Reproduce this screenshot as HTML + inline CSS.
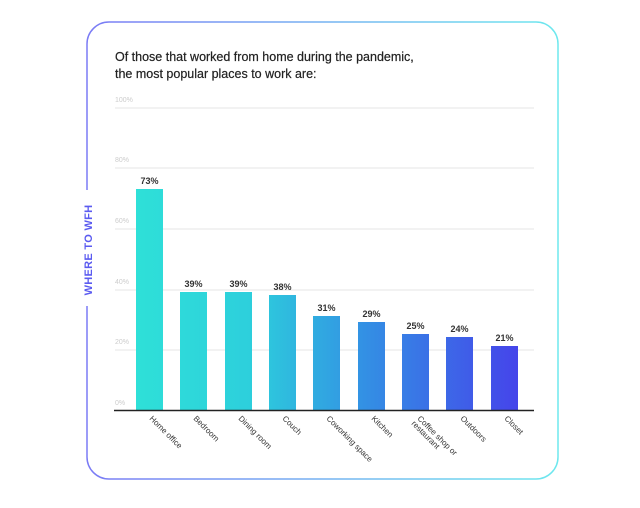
<!DOCTYPE html>
<html><head><style>
body{margin:0;background:#fff;width:640px;height:503px;overflow:hidden;font-family:"Liberation Sans",sans-serif}
</style></head><body>
<svg width="640" height="503" xmlns="http://www.w3.org/2000/svg">
<defs>
<linearGradient id="bd" x1="0" x2="1" y1="0" y2="0"><stop offset="0" stop-color="#7b7bf5"/><stop offset="1" stop-color="#6ee8ee"/></linearGradient>
<linearGradient id="bars" x1="136" x2="517" y1="0" y2="0" gradientUnits="userSpaceOnUse"><stop offset="0" stop-color="#2ee0d8"/><stop offset="0.3" stop-color="#2dcfdc"/><stop offset="0.6" stop-color="#3390e4"/><stop offset="1" stop-color="#4545ea"/></linearGradient>
</defs>
<rect x="87" y="22" width="471" height="457" rx="22" fill="none" stroke="url(#bd)" stroke-width="1.5"/>
<rect x="80" y="190" width="16" height="116" fill="#fff"/>
<text transform="translate(92,250) rotate(-90)" text-anchor="middle" font-size="11" font-weight="bold" fill="#5b5bf0" letter-spacing="0.3">WHERE TO WFH</text>
<text x="115" y="61" font-size="12.5" fill="#222" stroke="#222" stroke-width="0.2">Of those that worked from home during the pandemic,</text>
<text x="115" y="78" font-size="12.5" fill="#222" stroke="#222" stroke-width="0.2">the most popular places to work are:</text>
<g stroke="#e6e6e6" stroke-width="1">
<line x1="115" x2="534" y1="108" y2="108"/><line x1="115" x2="534" y1="168" y2="168"/><line x1="115" x2="534" y1="229" y2="229"/><line x1="115" x2="534" y1="290" y2="290"/><line x1="115" x2="534" y1="350" y2="350"/>
</g>
<g font-size="7" fill="#ccc">
<text x="115" y="102">100%</text><text x="115" y="162">80%</text><text x="115" y="223">60%</text><text x="115" y="284">40%</text><text x="115" y="344">20%</text><text x="115" y="405">0%</text>
</g>
<g fill="url(#bars)">
<rect x="136" y="189" width="27" height="221"/>
<rect x="180" y="292" width="27" height="118"/>
<rect x="225" y="292" width="27" height="118"/>
<rect x="269" y="295" width="27" height="115"/>
<rect x="313" y="316" width="27" height="94"/>
<rect x="358" y="322" width="27" height="88"/>
<rect x="402" y="334" width="27" height="76"/>
<rect x="446" y="337" width="27" height="73"/>
<rect x="491" y="346" width="27" height="64"/>
</g>
<line x1="114" x2="534" y1="410.5" y2="410.5" stroke="#222" stroke-width="1.5"/>
<g font-size="9" font-weight="bold" fill="#333" text-anchor="middle">
<text x="149.5" y="184">73%</text><text x="193.5" y="287">39%</text><text x="238.5" y="287">39%</text><text x="282.5" y="290">38%</text><text x="326.5" y="311">31%</text><text x="371.5" y="317">29%</text><text x="415.5" y="329">25%</text><text x="459.5" y="332">24%</text><text x="504.5" y="341">21%</text>
</g>
<g font-size="8" fill="#333">
<text transform="translate(149,419) rotate(45)">Home office</text>
<text transform="translate(193,419) rotate(45)">Bedroom</text>
<text transform="translate(238,419) rotate(45)">Dining room</text>
<text transform="translate(282,419) rotate(45)">Couch</text>
<text transform="translate(326,419) rotate(45)">Coworking space</text>
<text transform="translate(371,419) rotate(45)">Kitchen</text>
<text transform="translate(417,419) rotate(45)">Coffee shop or</text>
<text transform="translate(411,424) rotate(45)">restaurant</text>
<text transform="translate(460,419) rotate(45)">Outdoors</text>
<text transform="translate(504,419) rotate(45)">Closet</text>
</g>
</svg>
</body></html>
